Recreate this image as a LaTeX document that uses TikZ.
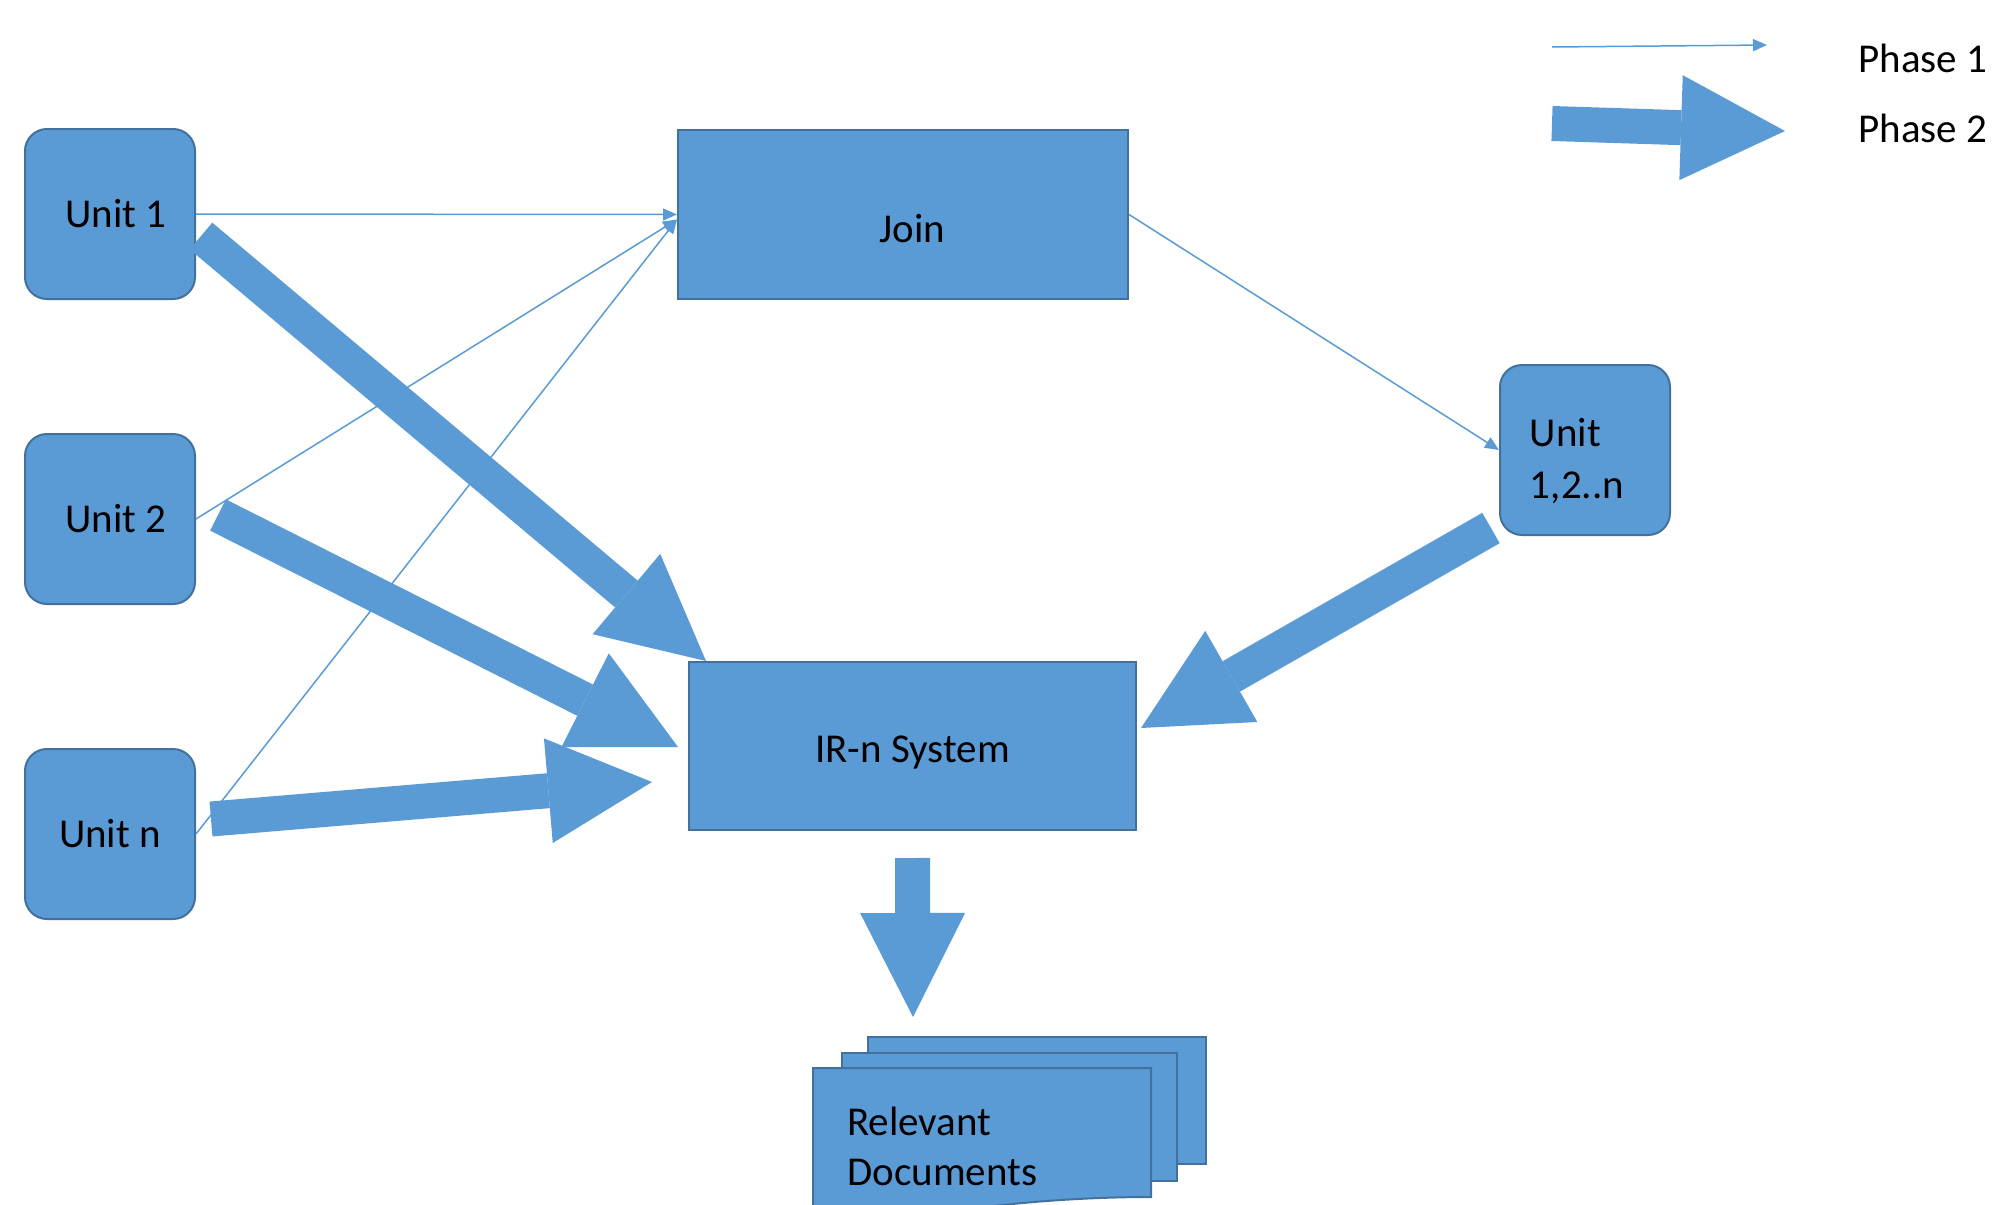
\documentclass[tikz,border=0pt]{standalone}
\usepackage{fontspec}
\setmainfont{Carlito}
\usetikzlibrary{arrows.meta, positioning}
\definecolor{boxblue}{RGB}{91,155,213}
\definecolor{boxline}{RGB}{65,113,156}
\newcommand{\diagfont}{\fontsize{20.5pt}{26pt}\selectfont}
\newcommand{\lowered}[2]{\raisebox{-#1}[\height][\depth]{#2}}

\begin{document}
\begin{tikzpicture}[x=0.5pt, y=-0.5pt,
    unitbox/.style={draw=boxline, fill=boxblue, line width=1pt, rounded corners=11pt, minimum width=85pt, minimum height=85pt, inner sep=0pt, align=left, font=\diagfont},
    stagebox/.style={draw=boxline, fill=boxblue, line width=1pt, minimum width=225pt, minimum height=84.5pt, inner sep=0pt, font=\diagfont},
    sheet/.style={draw=boxline, fill=boxblue, line width=1pt, inner sep=0pt, anchor=north west},
    phaseone/.style={draw=boxblue, line width=0.75pt, -{Triangle[length=7pt, width=6pt]}},
    phasetwo/.style={draw=boxblue, line width=17.5pt, -{Triangle[length=52pt, width=52.5pt, line width=0pt]}}]
        \path[fill=white, use as bounding box] (0,0) rectangle (1994,1205);

        % Draw the blocks
        \node (unitone) [unitbox] at (110,214) {\hspace*{6pt}Unit 1};
        \node (unittwo) [unitbox, below=66.5pt of unitone] {\hspace*{6pt}Unit 2};
        \node (unitn)   [unitbox, below=71.5pt of unittwo] {Unit n};
        \node (join)    [stagebox] at (903,214.5) {\hspace*{9.5pt}\lowered{7pt}{Join}};
        \node (unitall) [unitbox] at (1585,450) {\lowered{5.5pt}{Unit}\\\lowered{5.5pt}{1,2..n}\hspace*{8pt}};
        \node (irn)     [stagebox, minimum width=223.5pt, minimum height=84pt] at (912.5,746) {\lowered{3pt}{IR-n System}};

        % Draw the documents
        \node (docback) [sheet, minimum width=169pt, minimum height=63.5pt] at (867,1036) {};
        \node (docmid)  [sheet, minimum width=167.5pt, minimum height=64pt] at (841,1052) {};
        \draw [sheet] (813,1068) -- (1151,1068) -- (1151,1197) .. controls (1080,1197) and (1000,1203) .. (930,1215) -- (813,1235) -- cycle;
        \node (docs) [font=\fontsize{20.5pt}{25pt}\selectfont, align=left, inner sep=0pt, anchor=base west] at (847,1185) {Relevant\\Documents};
        \coordinate (docin) at (913,1017);

        % Draw the phase 1 lines
        \draw [phaseone] (unitone.east) -- (join.west);
        \draw [phaseone] (unittwo.east) -- ([yshift=-2.5pt]join.west);
        \draw [phaseone] (unitn.east) -- ([yshift=-2.5pt]join.west);
        \draw [phaseone] (join.east) -- (unitall.west);

        % Draw the phase 2 arrows
        \draw [phasetwo] ([shift={(5,22)}]unitone.east) -- ([xshift=9pt]irn.north west);
        \draw [phasetwo] ([shift={(22,-4)}]unittwo.east) -- ([shift={(-10,1)}]irn.west);
        \draw [phasetwo] ([shift={(15,-15)}]unitn.east) -- ([shift={(-36,36)}]irn.west);
        \draw [phasetwo] ([shift={(-8,-8)}]unitall.south west) -- ([shift={(4,-18)}]irn.east);
        \draw [phasetwo] ([yshift=-13.5pt]irn.south) -- (docin);

        % Legend
        \coordinate (oneleft)  at (1552,47);
        \coordinate (oneright) at (1767,45);
        \coordinate (twoleft)  at (1552,123.5);
        \coordinate (tworight) at (1785,131);
        \draw [phaseone] (oneleft) -- (oneright);
        \draw [phasetwo] (twoleft) -- (tworight);
        \node (phaseonetext) [font=\diagfont, anchor=base west, inner sep=0pt] at (1858,72) {Phase 1};
        \node (phasetwotext) [font=\diagfont, anchor=base west, inner sep=0pt] at (1858,142) {Phase 2};
    \end{tikzpicture}
\end{document}
